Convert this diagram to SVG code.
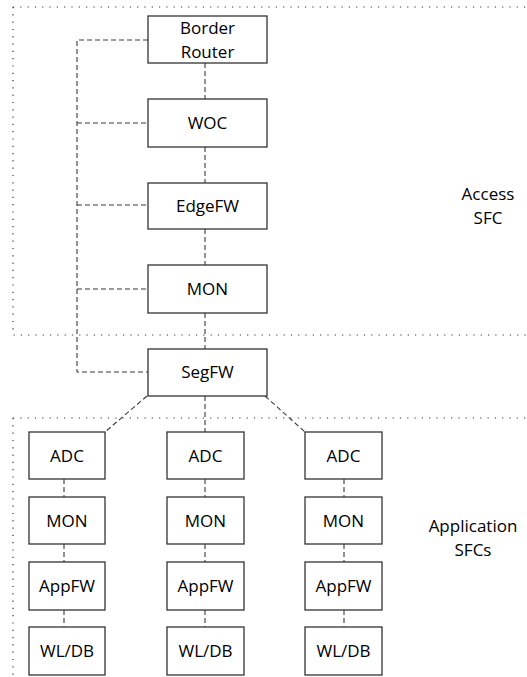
<svg xmlns="http://www.w3.org/2000/svg" width="527" height="677" viewBox="0 0 527 677">
<style>
.box{fill:#fff;stroke:#333;stroke-width:1.3}
.t{font-family:"Open Sans","Noto Sans",sans-serif;font-size:17px;fill:#000;text-anchor:middle}
.dash{fill:none;stroke:#3a3a3a;stroke-width:1.1;stroke-dasharray:5 3}
.dot{fill:none;stroke:#333;stroke-width:1.2;stroke-dasharray:1.2 6.1}
</style>
<g id="regions">
<path class="dot" d="M13,7 H527 M13,7 V335 H527"/>
<path class="dot" d="M13,418 H527 M13,418 V677"/>
</g>
<g id="labels">
<text class="t" x="488" y="200">Access</text>
<text class="t" x="488" y="224">SFC</text>
<text class="t" x="473" y="532">Application</text>
<text class="t" x="473" y="556">SFCs</text>
</g>
<g id="connectors">
<path class="dash" d="M148,40 H77 V372 H148 M77,123 H148 M77,205 H148 M77,289 H148"/>
<path class="dash" d="M205,63 V99 M205,147 V183 M205,229 V265 M205,313 V349"/>
<path class="dash" d="M147,396 L105,432 M205,396 V432 M265,396 L305,432"/>
<path class="dash" d="M64,479 V497 M64,544 V562 M64,610 V627"/>
<path class="dash" d="M205,479 V497 M205,544 V562 M205,610 V627"/>
<path class="dash" d="M344,479 V497 M344,544 V562 M344,610 V627"/>
</g>
<g id="border-router"><rect class="box" x="148" y="16" width="119" height="47"/><text class="t" x="207.5" y="34">Border</text><text class="t" x="207.5" y="58">Router</text></g>
<g id="woc"><rect class="box" x="148" y="99" width="119" height="48"/><text class="t" x="207.5" y="129">WOC</text></g>
<g id="edgefw"><rect class="box" x="148" y="183" width="119" height="46"/><text class="t" x="207.5" y="212">EdgeFW</text></g>
<g id="mon-access"><rect class="box" x="148" y="265" width="119" height="48"/><text class="t" x="207.5" y="295">MON</text></g>
<g id="segfw"><rect class="box" x="148" y="349" width="119" height="47"/><text class="t" x="207.5" y="378">SegFW</text></g>
<g id="adc1"><rect class="box" x="29" y="432" width="76" height="47"/><text class="t" x="67" y="462">ADC</text></g>
<g id="mon1"><rect class="box" x="29" y="497" width="76" height="47"/><text class="t" x="67" y="527">MON</text></g>
<g id="appfw1"><rect class="box" x="29" y="562" width="76" height="48"/><text class="t" x="67" y="592">AppFW</text></g>
<g id="wldb1"><rect class="box" x="29" y="627" width="76" height="48"/><text class="t" x="67" y="657">WL/DB</text></g>
<g id="adc2"><rect class="box" x="167" y="432" width="77" height="47"/><text class="t" x="205.5" y="462">ADC</text></g>
<g id="mon2"><rect class="box" x="167" y="497" width="77" height="47"/><text class="t" x="205.5" y="527">MON</text></g>
<g id="appfw2"><rect class="box" x="167" y="562" width="77" height="48"/><text class="t" x="205.5" y="592">AppFW</text></g>
<g id="wldb2"><rect class="box" x="167" y="627" width="77" height="48"/><text class="t" x="205.5" y="657">WL/DB</text></g>
<g id="adc3"><rect class="box" x="305" y="432" width="77" height="47"/><text class="t" x="343.5" y="462">ADC</text></g>
<g id="mon3"><rect class="box" x="305" y="497" width="77" height="47"/><text class="t" x="343.5" y="527">MON</text></g>
<g id="appfw3"><rect class="box" x="305" y="562" width="77" height="48"/><text class="t" x="343.5" y="592">AppFW</text></g>
<g id="wldb3"><rect class="box" x="305" y="627" width="77" height="48"/><text class="t" x="343.5" y="657">WL/DB</text></g>
</svg>
